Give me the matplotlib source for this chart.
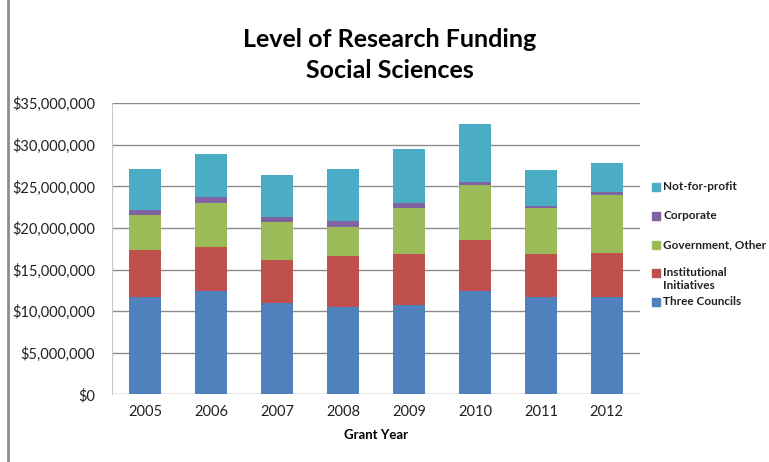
import numpy as np
import matplotlib.pyplot as plt
from matplotlib.lines import Line2D
from matplotlib.patches import Rectangle
from matplotlib.ticker import FuncFormatter

plt.rcParams['font.family'] = ['Lato', 'DejaVu Sans']

years = ['2005', '2006', '2007', '2008', '2009', '2010', '2011', '2012']
three_councils = [11.67, 12.43, 11.03, 10.55, 10.71, 12.43, 11.67, 11.67]
institutional = [5.69, 5.25, 5.09, 6.05, 6.21, 6.17, 5.25, 5.37]
government = [4.17, 5.37, 4.61, 3.53, 5.53, 6.62, 5.53, 6.94]
corporate = [0.60, 0.65, 0.64, 0.76, 0.60, 0.36, 0.16, 0.32]
not_for_profit = [4.93, 5.25, 5.05, 6.17, 6.46, 6.90, 4.33, 3.53]

series = [
    ('Three Councils', three_councils, '#4F81BD'),
    ('Institutional\nInitiatives', institutional, '#C0504D'),
    ('Government, Other', government, '#9BBB59'),
    ('Corporate', corporate, '#8064A2'),
    ('Not-for-profit', not_for_profit, '#4BACC6'),
]

W, H = 769, 462
fig = plt.figure(figsize=(W / 100, H / 100), dpi=100)
ax = fig.add_axes([0.1456, 0.1465, 0.6864, 0.6299])

x = np.arange(len(years))
bottom = np.zeros(len(years))
for name, vals, col in series:
    v = np.array(vals) * 1e6
    ax.bar(x, v, width=0.485, bottom=bottom, color=col, label=name, zorder=3)
    bottom += v

ax.set_xlim(-0.5, len(years) - 0.5)
ax.set_ylim(0, 35e6)
ax.set_yticks(np.arange(0, 35e6 + 1, 5e6))
ax.yaxis.set_major_formatter(FuncFormatter(lambda v, p: '${:,.0f}'.format(v)))
ax.set_xticks(x)
ax.set_xticklabels(years)
ax.tick_params(axis='both', length=0, labelsize=10.5, colors='#222222')
ax.tick_params(axis='x', pad=8)
ax.tick_params(axis='y', pad=12)
ax.grid(axis='y', color='#8c8c8c', linewidth=1, zorder=0)

for s in ['top', 'right', 'bottom']:
    ax.spines[s].set_visible(False)
ax.spines['left'].set_color('#c8c8c8')

ax.set_xlabel('Grant Year', fontsize=9.5, fontweight='bold', labelpad=7)

fig.text(0.507, 1 - 28 / H, 'Level of Research Funding\nSocial Sciences', ha='center', va='top',
         fontsize=18, fontweight='bold', linespacing=1.4)

# legend drawn by hand, Excel style (square beside the first line of each label)
leg_y = [187, 216, 245, 273, 302]
for (name, vals, col), yy in zip(series[::-1], leg_y):
    fig.patches.append(Rectangle((652 / W, 1 - (yy + 4) / H), 8 / W, 8 / H,
                                 transform=fig.transFigure, color=col, figure=fig))
    fig.text(663 / W, 1 - (yy - 6) / H, name, ha='left', va='top', fontsize=8.5,
             fontweight='bold', color='#222222', linespacing=1.25)

fig.add_artist(Line2D([0.0105, 0.0105], [0, 1], color='#8c8c8c', linewidth=2))

fig.savefig('out.png', dpi=100)
